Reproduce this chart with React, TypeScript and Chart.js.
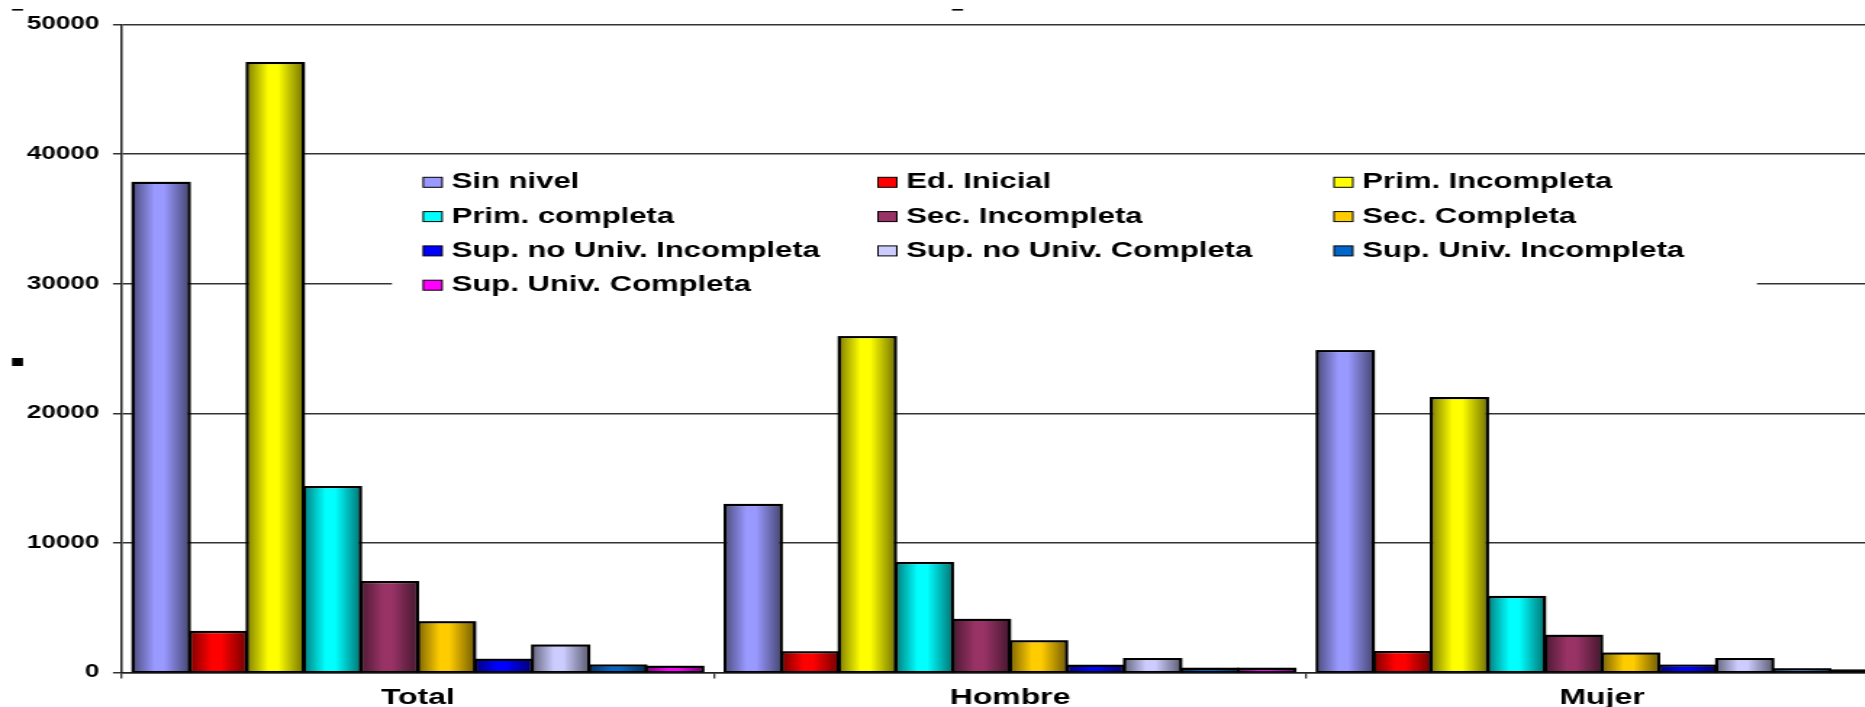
import { useEffect, useRef } from "react";
import { Chart, registerables } from "chart.js";

Chart.register(...registerables);

// ---------- data ----------
const categories = ["Total", "Hombre", "Mujer"];

const seriesLabels = [
  "Sin nivel",
  "Ed. Inicial",
  "Prim. Incompleta",
  "Prim. completa",
  "Sec. Incompleta",
  "Sec. Completa",
  "Sup. no Univ. Incompleta",
  "Sup. no Univ. Completa",
  "Sup. Univ. Incompleta",
  "Sup. Univ. Completa",
];

const seriesColors = [
  "#9999FF",
  "#FF0000",
  "#FFFF00",
  "#00FFFF",
  "#993366",
  "#FFCC00",
  "#0000FF",
  "#CCCCFF",
  "#0066CC",
  "#FF00FF",
];

const sinNivel = [37800, 12950, 24820];
const edInicial = [3150, 1580, 1600];
const primIncompleta = [47050, 25900, 21200];
const primCompleta = [14330, 8470, 5850];
const secIncompleta = [7000, 4080, 2850];
const secCompleta = [3900, 2430, 1480];
const supNoUnivIncompleta = [1000, 540, 550];
const supNoUnivCompleta = [2100, 1060, 1060];
const supUnivIncompleta = [560, 310, 270];
const supUnivCompleta = [460, 310, 180];

const seriesValues = [
  sinNivel,
  edInicial,
  primIncompleta,
  primCompleta,
  secIncompleta,
  secCompleta,
  supNoUnivIncompleta,
  supNoUnivCompleta,
  supUnivIncompleta,
  supUnivCompleta,
];

const yMin = 0;
const yMax = 50000;
const yStep = 10000;

// ---------- layout ----------
const STRETCH = 1.45;
const CANVAS_W = 1312;
const CANVAS_H = 707;
const FONT = "'Liberation Sans', Arial, sans-serif";

const LEGEND_BOX = { x: 270.3, y: 160, w: 941.4, h: 140 };
const LEGEND_COLS = [291.9, 605.5, 920];
const LEGEND_ROWS = [188.3, 222.6, 256.9, 291.2];

const decorPlugin = {
  id: "decor",
  beforeDatasetsDraw(chart: any) {
    const ctx = chart.ctx as CanvasRenderingContext2D;
    ctx.save();
    ctx.fillStyle = "#ffffff";
    ctx.fillRect(LEGEND_BOX.x, LEGEND_BOX.y, LEGEND_BOX.w, LEGEND_BOX.h);
    ctx.font = `bold 21.4px ${FONT}`;
    ctx.textBaseline = "alphabetic";
    ctx.textAlign = "left";
    chart.data.datasets.forEach((ds: any, i: number) => {
      const col = i % 3;
      const row = Math.floor(i / 3);
      const mx = LEGEND_COLS[col];
      const by = LEGEND_ROWS[row];
      ctx.fillStyle = ds.backgroundColor;
      ctx.fillRect(mx, by - 11, 13, 10);
      ctx.strokeStyle = "#000";
      ctx.lineWidth = 1;
      ctx.strokeRect(mx, by - 11, 13, 10);
      ctx.fillStyle = "#000";
      ctx.fillText(ds.label, mx + 19.6, by);
    });
    ctx.restore();
  },
  afterDatasetsDraw(chart: any) {
    const ctx = chart.ctx as CanvasRenderingContext2D;
    ctx.save();
    chart.data.datasets.forEach((_ds: any, i: number) => {
      const meta = chart.getDatasetMeta(i);
      meta.data.forEach((bar: any) => {
        const { x, y, base, width } = bar.getProps(["x", "y", "base", "width"], true);
        const left = x - width / 2;
        const g = ctx.createLinearGradient(left, 0, left + width, 0);
        g.addColorStop(0, "rgba(0,0,0,0.5)");
        g.addColorStop(0.38, "rgba(0,0,0,0)");
        g.addColorStop(0.55, "rgba(0,0,0,0)");
        g.addColorStop(1, "rgba(0,0,0,0.55)");
        ctx.fillStyle = g;
        ctx.fillRect(left, y, width, base - y);
        ctx.strokeStyle = "#000";
        ctx.lineWidth = 1.5;
        ctx.strokeRect(left, y, width, base - y);
      });
    });
    // small stray marks of the original
    ctx.fillStyle = "#000";
    ctx.fillRect(12 / STRETCH, 9, 11 / STRETCH, 1.6);
    ctx.fillRect(952 / STRETCH, 9, 11 / STRETCH, 1.6);
    ctx.fillRect(12 / STRETCH, 358, 11 / STRETCH, 8);
    ctx.restore();
  },
};

export default function App() {
  const ref = useRef<HTMLCanvasElement>(null);

  useEffect(() => {
    if (!ref.current) return;
    const chart = new Chart(ref.current, {
      type: "bar",
      data: {
        labels: categories,
        datasets: seriesLabels.map((label, i) => ({
          label,
          data: seriesValues[i],
          backgroundColor: seriesColors[i],
          borderColor: "#000000",
          borderWidth: 1.5,
          barPercentage: 1.0,
          categoryPercentage: 0.964,
        })),
      },
      options: {
        responsive: false,
        maintainAspectRatio: false,
        animation: false,
        devicePixelRatio: 1,
        layout: { padding: { left: 0, right: 3, top: 24.5, bottom: 0 } },
        plugins: {
          legend: { display: false },
          title: { display: false },
          tooltip: { enabled: false },
        },
        scales: {
          x: {
            type: "category",
            offset: true,
            grid: {
              display: true,
              drawOnChartArea: false,
              drawTicks: true,
              tickLength: 6,
              offset: true,
              color: "#333333",
              lineWidth: 1.3,
            },
            border: { display: true, color: "#222222", width: 1.5 },
            ticks: {
              color: "#000000",
              font: { family: FONT, size: 22, weight: "bold" },
              padding: 6,
              maxRotation: 0,
              autoSkip: false,
            },
            afterFit: (scale: any) => {
              scale.height = 34.5;
            },
          },
          y: {
            type: "linear",
            min: yMin,
            max: yMax,
            ticks: {
              stepSize: yStep,
              color: "#000000",
              font: { family: FONT, size: 18, weight: "bold" },
              padding: 9.4,
              callback: (v: any) => String(v),
            },
            grid: {
              display: true,
              drawOnChartArea: true,
              drawTicks: true,
              tickLength: 6.2,
              color: "#333333",
              lineWidth: 1.5,
            },
            border: { display: true, color: "#222222", width: 1.5 },
            afterFit: (scale: any) => {
              scale.width = 84.1;
            },
          },
        },
      },
      plugins: [decorPlugin],
    });
    return () => chart.destroy();
  }, []);

  return (
    <div
      style={{
        position: "absolute",
        left: 0,
        top: 0,
        width: 1865,
        height: CANVAS_H,
        overflow: "hidden",
        background: "#ffffff",
      }}
    >
      <div
        style={{
          width: CANVAS_W,
          height: CANVAS_H,
          transform: `scaleX(${STRETCH})`,
          transformOrigin: "0 0",
        }}
      >
        <canvas
          ref={ref}
          width={CANVAS_W}
          height={CANVAS_H}
          style={{ display: "block", width: CANVAS_W, height: CANVAS_H }}
        />
      </div>
    </div>
  );
}
